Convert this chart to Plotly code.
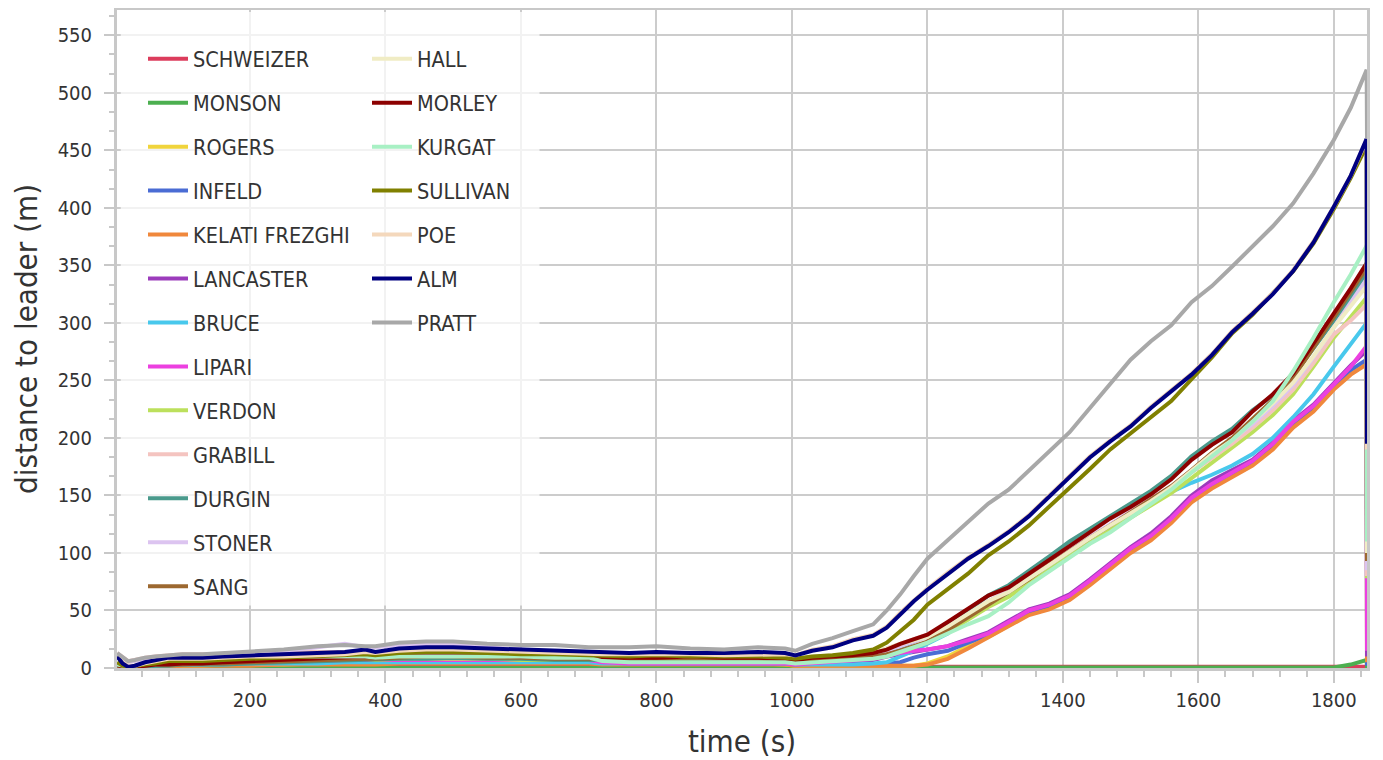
import plotly.graph_objects as go

time_s = [4, 12, 20, 30, 45, 60, 80, 100, 130, 160,
          200, 250, 300, 340, 370, 385, 420, 460, 500, 550,
          600, 650, 700, 720, 760, 800, 850, 900, 950, 990,
          1005, 1030, 1060, 1090, 1120, 1140, 1160, 1180, 1200, 1230,
          1260, 1290, 1320, 1350, 1380, 1410, 1440, 1470, 1500, 1530,
          1560, 1590, 1620, 1650, 1680, 1710, 1740, 1770, 1800, 1825,
          1848.5, 1849]

SCHWEIZER = [2, 1, 0, 0, 1, 1, 1, 1, 1, 1,
             1, 1, 1, 1, 1, 1, 1, 1, 1, 1,
             1, 1, 1, 1, 1, 1, 1, 1, 1, 1,
             1, 1, 1, 1, 1, 1, 1.5, 1.5, 1.5, 1.5,
             1.5, 1.5, 1.5, 1.5, 1.5, 1.5, 1.5, 1.5, 1.5, 1.5,
             1.5, 1.5, 1.5, 1.5, 1.5, 1.5, 1.5, 1.5, 1.5, 1.2,
             1, 0]
MONSON = [1, 0, 0, 0, 0, 0, 0, 0, 0, 0,
          0, 0, 0, 0, 0, 0, 0, 0, 0, 0,
          0, 0, 0, 0, 0, 0, 0, 0, 0, 0,
          0, 0, 0, 0, 0, 0, 0, 0, 0, 0,
          0, 0, 0, 0, 0, 0, 0, 0, 0, 0,
          0, 0, 0, 0, 0, 0, 0, 0, 0.5, 3,
          7, 0]
ROGERS = [1, 0, 0, 0, 1, 1, 2, 2, 2, 3,
          3, 3, 4, 4, 4, 4, 5, 5, 5, 5,
          5, 5, 5, 4, 4, 4, 4, 4, 4, 3,
          2, 2, 2, 2, 2, 2, 2, 2, 4, 10,
          19, 27, 37, 47, 52, 60, 73, 87, 101, 112,
          127, 145, 157, 167, 177, 191, 210, 224, 243, 257,
          265, 3]
INFELD = [1, 0, 0, 1, 1, 2, 2, 3, 3, 3,
          4, 4, 5, 5, 5, 5, 6, 6, 6, 6,
          6, 6, 6, 5, 5, 5, 5, 5, 4, 4,
          3, 3, 3, 3, 3, 4, 5, 9, 12, 15,
          22, 29, 38, 48, 53, 61, 74, 88, 102, 113,
          128, 146, 158, 168, 178, 193, 211, 225, 244, 259,
          268, 2]
KELATI_FREZGHI = [0, 0, 0, 0, 1, 1, 1, 2, 2, 2,
                  2, 3, 3, 3, 3, 3, 4, 4, 4, 4,
                  4, 4, 4, 3, 3, 3, 3, 3, 3, 3,
                  2, 2, 2, 2, 2, 2, 2, 2, 3, 8,
                  17, 27, 36, 46, 51, 59, 72, 86, 100, 111,
                  126, 144, 156, 166, 176, 190, 209, 223, 242, 255,
                  264, 5]
LANCASTER = [2, 1, 0, 1, 2, 3, 3, 4, 4, 5,
             5, 5, 6, 6, 6, 6, 7, 7, 7, 6,
             6, 6, 6, 5, 4, 4, 4, 4, 4, 4,
             3, 4, 4, 5, 7, 10, 12, 14, 16, 19,
             25, 31, 41, 51, 56, 64, 77, 91, 105, 117,
             132, 150, 163, 172, 181, 196, 215, 229, 248, 263,
             276, 10]
BRUCE = [1, 0, 0, 1, 1, 2, 3, 3, 3, 3,
         4, 4, 4, 5, 5, 5, 5, 5, 5, 5,
         5, 5, 5, 4, 4, 4, 4, 4, 4, 4,
         3, 3, 3, 3, 4, 5, 10, 15, 21, 30,
         43, 57, 64, 74, 87, 100, 110, 120, 135, 146,
         153, 161, 168, 176, 186, 200, 218, 238, 262, 282,
         300, 60]
LIPARI = [2, 1, 0, 1, 2, 3, 4, 4, 5, 5,
          5, 6, 6, 7, 7, 7, 7, 7, 7, 7,
          7, 7, 7, 5, 4, 4, 4, 4, 4, 4,
          3, 4, 5, 6, 8, 11, 13, 15, 16, 19,
          24, 30, 40, 50, 55, 63, 76, 90, 104, 115,
          130, 148, 160, 170, 180, 195, 214, 228, 247, 262,
          280, 15]
VERDON = [3, 1, 1, 1, 2, 3, 4, 4, 5, 5,
          6, 6, 7, 7, 8, 7, 8, 8, 8, 8,
          7, 7, 7, 7, 7, 7, 7, 6, 6, 6,
          5, 6, 7, 8, 9, 11, 14, 18, 22, 31,
          42, 53, 62, 74, 86, 98, 109, 120, 131, 141,
          152, 165, 178, 191, 205, 220, 238, 262, 287, 305,
          322, 78]
GRABILL = [13, 9, 6, 7, 9, 10, 11, 12, 12, 12,
           13, 14, 14, 14, 13, 13, 13, 14, 13, 12,
           12, 11, 11, 10, 10, 10, 10, 9, 10, 9,
           8, 9, 10, 12, 14, 17, 21, 25, 29, 38,
           48, 58, 67, 79, 91, 103, 114, 124, 135, 146,
           157, 170, 182, 195, 209, 224, 242, 265, 290, 302,
           316, 80]
DURGIN = [2, 1, 0, 0, 1, 2, 2, 3, 3, 3,
          4, 5, 6, 6, 7, 7, 8, 8, 9, 8,
          8, 7, 7, 7, 6, 7, 7, 6, 6, 6,
          5, 6, 7, 8, 10, 14, 18, 23, 28, 38,
          51, 63, 72, 84, 97, 110, 121, 133, 143, 154,
          167, 184, 197, 208, 224, 237, 254, 278, 303, 322,
          344, 120]
STONER = [12, 8, 5, 6, 8, 9, 10, 11, 11, 12,
          14, 15, 18, 21, 18, 18, 20, 21, 20, 18,
          16, 14, 11, 10, 9, 9, 9, 8, 8, 8,
          7, 8, 9, 10, 12, 15, 19, 23, 27, 36,
          47, 58, 67, 79, 91, 103, 114, 125, 136, 147,
          158, 172, 185, 198, 212, 228, 246, 270, 296, 318,
          338, 85]
SANG = [2, 1, 0, 1, 2, 3, 3, 3, 4, 4,
        5, 6, 7, 8, 8, 8, 9, 10, 10, 9,
        9, 8, 8, 8, 8, 8, 8, 8, 8, 7,
        6, 7, 8, 9, 10, 12, 15, 19, 23, 33,
        44, 55, 65, 77, 90, 102, 113, 124, 135, 146,
        158, 172, 187, 200, 216, 233, 252, 278, 305, 327,
        348, 93]
HALL = [4, 2, 1, 1, 3, 4, 5, 6, 6, 7,
        8, 9, 10, 11, 12, 11, 13, 13, 13, 12,
        11, 11, 10, 10, 10, 10, 10, 10, 10, 9,
        8, 10, 11, 12, 14, 17, 21, 24, 27, 36,
        47, 58, 66, 78, 90, 102, 113, 124, 134, 145,
        157, 172, 186, 198, 214, 230, 248, 271, 296, 314,
        332, 100]
MORLEY = [3, 1, 0, 1, 2, 3, 3, 4, 4, 5,
          6, 7, 8, 9, 10, 9, 11, 12, 12, 11,
          10, 10, 9, 9, 9, 9, 10, 9, 9, 8,
          7, 9, 10, 11, 13, 16, 21, 25, 29, 40,
          52, 63, 70, 82, 94, 107, 118, 130, 140, 151,
          164, 181, 194, 205, 223, 238, 256, 282, 308, 330,
          352, 115]
KURGAT = [3, 2, 1, 2, 4, 6, 8, 9, 9, 9,
          9, 10, 10, 10, 10, 9, 10, 10, 10, 10,
          10, 9, 9, 6, 5, 5, 5, 5, 5, 5,
          4, 5, 6, 7, 8, 10, 14, 18, 22, 30,
          38, 45, 57, 72, 84, 97, 108, 118, 130, 142,
          155, 170, 184, 198, 214, 232, 258, 287, 318, 342,
          367, 110]
SULLIVAN = [5, 2, 1, 2, 3, 4, 6, 6, 6, 7,
            8, 9, 10, 11, 12, 11, 13, 14, 14, 13,
            12, 12, 11, 10, 10, 11, 10, 10, 10, 9,
            8, 10, 11, 13, 16, 22, 32, 42, 55, 68,
            82, 98, 110, 124, 140, 156, 173, 190, 204, 219,
            232, 251, 270, 291, 307, 326, 345, 369, 399, 426,
            454, 192]
POE = [11, 5, 2, 2, 4, 6, 8, 8, 8, 9,
       10, 10, 11, 12, 14, 13, 15, 16, 16, 15,
       14, 13, 12, 12, 12, 12, 12, 11, 12, 12,
       11, 16, 19, 25, 29, 36, 48, 59, 69, 83,
       96, 107, 119, 133, 150, 166, 184, 198, 211, 227,
       241, 256, 273, 293, 309, 326, 346, 371, 401, 428,
       459, 190]
ALM = [10, 4, 1, 2, 5, 7, 9, 9, 9, 10,
       11, 12, 13, 14, 16, 14, 17, 18, 18, 17,
       16, 15, 14, 13, 13, 14, 13, 13, 14, 13,
       11, 15, 18, 24, 28, 35, 47, 58, 68, 82,
       95, 106, 118, 132, 149, 165, 183, 197, 210, 226,
       240, 255, 272, 292, 308, 325, 345, 370, 401, 428,
       460, 195]
PRATT = [13, 9, 6, 7, 9, 10, 11, 12, 12, 13,
         15, 16, 19, 20, 19, 19, 22, 23, 23, 21,
         20, 20, 18, 18, 18, 19, 17, 16, 18, 17,
         15, 21, 26, 32, 38, 50, 64, 80, 95, 111,
         127, 143, 155, 172, 188, 205, 226, 247, 268, 284,
         298, 318, 332, 349, 366, 384, 404, 430, 459, 487,
         520, 460]

runners = ["SCHWEIZER", "MONSON", "ROGERS", "INFELD", "KELATI FREZGHI",
           "LANCASTER", "BRUCE", "LIPARI", "VERDON", "GRABILL", "DURGIN",
           "STONER", "SANG", "HALL", "MORLEY", "KURGAT", "SULLIVAN", "POE",
           "ALM", "PRATT"]
values = [SCHWEIZER, MONSON, ROGERS, INFELD, KELATI_FREZGHI, LANCASTER,
          BRUCE, LIPARI, VERDON, GRABILL, DURGIN, STONER, SANG, HALL,
          MORLEY, KURGAT, SULLIVAN, POE, ALM, PRATT]
colors = ["#dc3c5c", "#4caf50", "#f0d43c", "#4a6cd4", "#f0883c",
          "#9c3cbc", "#48c8ec", "#ec40e0", "#bce05c", "#f4c4c0",
          "#4a9a8c", "#dcc4f0", "#9c6830", "#f0ecc4", "#8c0000",
          "#a8f0c4", "#808000", "#f4d8bc", "#000080", "#a8a8a8"]

FONT = "DejaVu Sans Condensed, DejaVu Sans, sans-serif"
TXT = "#333333"

fig = go.Figure()
for i, (name, vals, col) in enumerate(zip(runners, values, colors)):
    fig.add_trace(go.Scatter(
        x=time_s, y=vals, mode="lines", name=name,
        line=dict(color=col, width=4),
        legend="legend" if i < 13 else "legend2",
        legendgroup=name,
    ))

axis_col = "#c8c8c8"
grid_col = "#cccccc"

legend_common = dict(
    bgcolor="rgba(0,0,0,0)", borderwidth=0,
    font=dict(family=FONT, size=21.5, color=TXT),
    tracegroupgap=13, itemwidth=40,
    xanchor="left", yanchor="top", orientation="v",
)

fig.update_layout(
    width=1375, height=752,
    margin=dict(l=109, r=16, t=2, b=92),
    paper_bgcolor="white", plot_bgcolor="white",
    font=dict(family=FONT, color=TXT),
    legend=dict(x=0.0208, y=0.957, **legend_common),
    legend2=dict(x=0.200, y=0.957, **legend_common),
    xaxis=dict(
        range=[3.7, 1849], dtick=200, tick0=0, automargin=False,
        showgrid=True, gridcolor=grid_col, gridwidth=2,
        showline=True, linecolor=axis_col, linewidth=3, mirror=True,
        ticks="outside", ticklen=12, tickwidth=2, tickcolor=axis_col,
        tickfont=dict(family=FONT, size=20, color=TXT),
        minor=dict(dtick=40, tick0=0, ticks="outside", ticklen=6,
                   tickwidth=2, tickcolor=axis_col, showgrid=False),
        zeroline=False,
        title=dict(text="time (s)", font=dict(family=FONT, size=31, color=TXT), standoff=20),
    ),
    yaxis=dict(
        range=[0, 572], dtick=50, tick0=0, automargin=False,
        showgrid=True, gridcolor=grid_col, gridwidth=2,
        showline=True, linecolor=axis_col, linewidth=3, mirror=True,
        ticks="outside", ticklen=10, tickwidth=2, tickcolor=axis_col,
        ticklabelstandoff=8,
        tickfont=dict(family=FONT, size=20, color=TXT),
        minor=dict(dtick=50 / 3, tick0=0, ticks="outside", ticklen=5,
                   tickwidth=2, tickcolor=axis_col, showgrid=False),
        zeroline=False,
        title=dict(text="distance to leader (m)", font=dict(family=FONT, size=31, color=TXT), standoff=11),
    ),
    shapes=[dict(type="rect", xref="paper", yref="paper",
                 x0=0.003, x1=0.338, y0=0.095, y1=0.997,
                 fillcolor="rgba(255,255,255,0.75)", line=dict(width=0),
                 layer="above")],
)

fig.write_html("out.html")
